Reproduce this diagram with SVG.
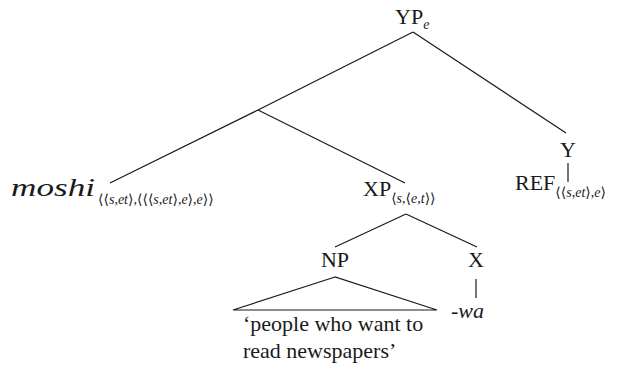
<svg xmlns="http://www.w3.org/2000/svg" width="619" height="367" viewBox="0 0 619 367">
<style>
.t{font-family:"Liberation Serif","DejaVu Serif",serif;font-size:22px;fill:#1a1a1a}
.i{font-style:italic}
.s{font-size:14px}
.c line,.c polygon{stroke:#1a1a1a;stroke-width:1.2;fill:none}
</style>
<rect width="619" height="367" fill="#fff"/>
<g class="c" id="connectors">
<line x1="413" y1="32" x2="258" y2="110"/>
<line x1="413" y1="32" x2="566" y2="133"/>
<line x1="258" y1="110" x2="110" y2="183"/>
<line x1="258" y1="110" x2="405" y2="183"/>
<line x1="568" y1="163" x2="568" y2="182"/>
<line x1="406" y1="214" x2="335" y2="247"/>
<line x1="406" y1="214" x2="477" y2="247"/>
<line x1="476" y1="279" x2="476" y2="298"/>
<polygon points="335,277 233,310 437,310"/>
</g>
<g id="YP"><text class="t" x="395" y="24">YP<tspan class="i s" dy="5">e</tspan></text></g>
<g id="Y"><text class="t" x="568" y="157" text-anchor="middle">Y</text></g>
<g id="REF"><text class="t" x="515" y="190">REF<tspan class="s" dy="7">⟨⟨<tspan class="i">s</tspan>,<tspan class="i">et</tspan>⟩,<tspan class="i">e</tspan>⟩</tspan></text></g>
<g id="moshi"><text class="t i" x="11" y="196" style="font-size:25px" textLength="84" lengthAdjust="spacingAndGlyphs">moshi</text><text class="t s" x="98" y="204">⟨⟨<tspan class="i">s</tspan>,<tspan class="i">et</tspan>⟩,⟨⟨⟨<tspan class="i">s</tspan>,<tspan class="i">et</tspan>⟩,<tspan class="i">e</tspan>⟩,<tspan class="i">e</tspan>⟩⟩</text></g>
<g id="XP"><text class="t" x="363" y="196">XP<tspan class="s" dy="7">⟨<tspan class="i">s</tspan>,⟨<tspan class="i">e</tspan>,<tspan class="i">t</tspan>⟩⟩</tspan></text></g>
<g id="NP"><text class="t" x="335" y="267" text-anchor="middle">NP</text></g>
<g id="X"><text class="t" x="476" y="267" text-anchor="middle">X</text></g>
<g id="wa"><text class="t i" x="451" y="318">-wa</text></g>
<g id="gloss"><text class="t" x="243" y="331">‘people who want to</text><text class="t" x="243" y="358">read newspapers’</text></g>
</svg>
